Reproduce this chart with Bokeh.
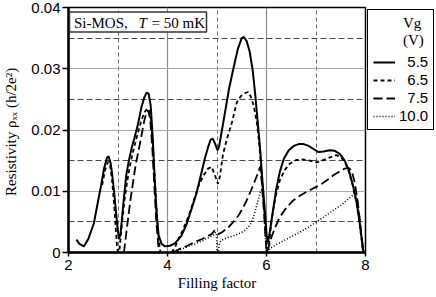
import numpy as np
from bokeh.plotting import figure
from bokeh.models import (Range1d, FixedTicker, Label, BoxAnnotation, CustomJSTickFormatter,
                          Legend, LegendItem)
from bokeh.embed import file_html
from bokeh.resources import INLINE

NAN = float("nan")
NBSP = "\u00a0"

# ---------------- data ----------------
x_ticks = [2, 4, 6, 8]
x_minor = [3, 5, 7]
y_ticks = [0, 0.01, 0.02, 0.03, 0.04]
y_minor = [0.005, 0.015, 0.025, 0.035]

legend_labels = ["5.5", "6.5", "7.5", "10.0"]

# Vg = 5.5 V (solid)
x_55 = [2.16, 2.22, 2.31, 2.40, 2.51, 2.60, 2.66, 2.72, 2.78, 2.81, 2.85, 2.88, 2.92, 2.95, 2.99,
        3.02, 3.05, 3.08, 3.12, 3.17, 3.22, 3.28, 3.33, 3.40, 3.47, 3.53, 3.58, 3.62, 3.66, 3.70,
        3.74, 3.78, 3.82, 3.88, 3.95, 4.05, 4.15, 4.28, 4.38, 4.48, 4.58, 4.68, 4.76, 4.82, 4.87,
        4.91, 4.96, 5.01, 5.04, 5.10, 5.16, 5.24, 5.33, 5.42, 5.50, 5.54, 5.60, 5.66, 5.72, 5.77,
        5.82, 5.87, 5.92, 5.97, 6.00, 6.03, 6.07, 6.13, 6.20, 6.27, 6.35, 6.45, 6.55, 6.65, 6.75,
        6.85, 6.95, 7.05, 7.15, 7.28, 7.38, 7.48, 7.58, 7.66, 7.74, 7.82, 7.88, 7.93, 7.96]
y_55 = [0.0021, 0.0014, 0.0010, 0.0022, 0.0047, 0.0085, 0.0110, 0.0138, 0.0155, 0.0157, 0.0146,
        0.0129, 0.0100, 0.0074, 0.0040, 0.0022, 0.0030, 0.0055, 0.0090, 0.0128, 0.0150, 0.0172,
        0.0186, 0.0208, 0.0236, 0.0253, 0.0261, 0.0259, 0.0240, 0.0190, 0.0120, 0.0065, 0.0028,
        0.0014, 0.0010, 0.0011, 0.0015, 0.0027, 0.0045, 0.0070, 0.0095, 0.0128, 0.0155, 0.0172,
        0.0184, 0.0186, 0.0178, 0.0167, 0.0172, 0.0200, 0.0228, 0.0266, 0.0300, 0.0332, 0.0350,
        0.0352, 0.0345, 0.0328, 0.0298, 0.0260, 0.0215, 0.0170, 0.0115, 0.0065, 0.0030, 0.0017,
        0.0035, 0.0068, 0.0105, 0.0132, 0.0153, 0.0167, 0.0174, 0.0177, 0.0177, 0.0174, 0.0169,
        0.0164, 0.0165, 0.0167, 0.0166, 0.0161, 0.0150, 0.0135, 0.0112, 0.0082, 0.0050, 0.0018,
        0.0]

# Vg = 6.5 V (short dash)
x_65 = [2.68, 2.74, 2.80, 2.84, 2.88, 2.92, 2.95, 2.98, 3.00, 3.03, 3.08, 3.13, 3.19, 3.25, 3.32,
        3.40, 3.47, 3.53, 3.59, 3.63, 3.67, 3.71, 3.75, 3.79, 3.83, 3.86, NAN,
        4.08, 4.15, 4.21, 4.30, 4.42, 4.52, 4.62, 4.72, 4.82, 4.89, 4.95, 5.02, 5.06, 5.12, 5.20,
        5.30, 5.40, 5.48, 5.56, 5.63, 5.68, 5.74, 5.80, 5.85, 5.90, 5.95, 5.99, 6.02, 6.05, 6.10,
        6.18, 6.27, 6.37, 6.47, 6.60, 6.74, 6.88, 7.01, 7.12, 7.21, 7.31, 7.41, 7.50, 7.58, 7.66,
        7.74, 7.82, 7.88, 7.93, 7.95]
y_65 = [0.0110, 0.0135, 0.0148, 0.0143, 0.0118, 0.0080, 0.0045, 0.0010, 0.0, 0.0005, 0.0047,
        0.0085, 0.0118, 0.0145, 0.0170, 0.0195, 0.0215, 0.0228, 0.0235, 0.0232, 0.0215, 0.0170,
        0.0110, 0.0055, 0.0015, 0.0, NAN,
        0.0, 0.0008, 0.0020, 0.0035, 0.0058, 0.0082, 0.0107, 0.0125, 0.0137, 0.0140, 0.0128,
        0.0112, 0.0125, 0.0160, 0.0185, 0.0212, 0.0245, 0.0255, 0.0260, 0.0262, 0.0255, 0.0240,
        0.0215, 0.0180, 0.0130, 0.0075, 0.0030, 0.0005, 0.0012, 0.0052, 0.0090, 0.0118, 0.0135,
        0.0145, 0.0151, 0.0152, 0.0150, 0.0147, 0.0150, 0.0153, 0.0156, 0.0159, 0.0156, 0.0148,
        0.0133, 0.0110, 0.0080, 0.0048, 0.0015, 0.0]

# Vg = 7.5 V (long dash)
x_75 = [3.12, 3.18, 3.25, 3.31, 3.36, 3.42, 3.47, 3.53, 3.58, 3.61, 3.65, 3.69, 3.73, 3.77, 3.81,
        3.83, NAN,
        4.11, 4.25, 4.40, 4.55, 4.70, 4.82, 4.89, 4.95, 4.99, 5.03, 5.10, 5.23, 5.33, 5.43, 5.52,
        5.60, 5.68, 5.77, 5.83, 5.87, 5.91, 5.95, 5.98, 6.00, 6.04, 6.10, 6.18, 6.27, 6.40, 6.54,
        6.68, 6.81, 6.95, 7.08, 7.22, 7.35, 7.47, 7.58, 7.66, 7.72, 7.78, 7.84, 7.89, 7.93, 7.96]
y_75 = [0.0, 0.0040, 0.0085, 0.0118, 0.0145, 0.0168, 0.0189, 0.0215, 0.0230, 0.0232, 0.0218,
        0.0175, 0.0115, 0.0055, 0.0015, 0.0, NAN,
        0.0, 0.0006, 0.0011, 0.0017, 0.0022, 0.0027, 0.0030, 0.0036, 0.0034, 0.0030, 0.0033,
        0.0041, 0.0050, 0.0060, 0.0072, 0.0085, 0.0100, 0.0118, 0.0130, 0.0140, 0.0110, 0.0065,
        0.0025, 0.0, 0.0008, 0.0025, 0.0042, 0.0058, 0.0073, 0.0085, 0.0093, 0.0099, 0.0105,
        0.0110, 0.0118, 0.0126, 0.0132, 0.0137, 0.0138, 0.0134, 0.0115, 0.0085, 0.0050, 0.0020,
        0.0]

# Vg = 10.0 V (dotted)
x_100 = [4.15, 4.30, 4.45, 4.55, 4.70, 4.82, 4.92, 4.97, 4.99, 5.00, 5.02, 5.05, 5.09, 5.20, 5.36,
         5.48, 5.56, 5.64, 5.70, 5.76, 5.83, 5.88, 5.91, 5.94, 5.97, 6.00, 6.08, 6.20, 6.34, 6.50,
         6.67, 6.84, 7.01, 7.18, 7.35, 7.50, 7.62, 7.72, 7.78, 7.83, 7.87, 7.91, 7.95]
y_100 = [0.0, 0.0006, 0.0011, 0.0014, 0.0019, 0.0024, 0.0028, 0.0033, 0.0030, 0.0, 0.0, 0.0015,
         0.0020, 0.0024, 0.0028, 0.0032, 0.0036, 0.0042, 0.0050, 0.0064, 0.0085, 0.0100, 0.0104,
         0.0075, 0.0035, 0.0, 0.0007, 0.0013, 0.0019, 0.0026, 0.0033, 0.0041, 0.0050, 0.0059,
         0.0069, 0.0077, 0.0085, 0.0092, 0.0096, 0.0088, 0.0065, 0.0035, 0.0]

series = [(x_55, y_55, "solid", 2.0), (x_65, y_65, "4 3", 1.8),
          (x_75, y_75, "9 4", 1.8), (x_100, y_100, "1 2", 1.6)]

# ---------------- geometry ----------------
FRAME_W, FRAME_H = 297, 245
B_LEFT, B_TOP, B_BOTTOM = 67, 7, 38
X0, X1, Y0, Y1 = 2, 8, 0, 0.04
pxu_x = FRAME_W / (X1 - X0)
pxu_y = FRAME_H / (Y1 - Y0)


def dx(offset):          # px right of frame left edge -> data x
    return X0 + offset / pxu_x


def dy_top(offset):      # px below frame top edge -> data y
    return Y1 - offset / pxu_y


p = figure(frame_width=FRAME_W, frame_height=FRAME_H, x_range=Range1d(X0, X1),
           y_range=Range1d(Y0, Y1), output_backend="svg", toolbar_location=None,
           min_border_left=B_LEFT, min_border_right=0,
           min_border_top=B_TOP, min_border_bottom=B_BOTTOM)
p.background_fill_color = "white"
p.border_fill_color = "white"
p.outline_line_color = "black"
p.outline_line_width = 1.5
p.outline_line_alpha = 1.0

p.xaxis.ticker = FixedTicker(ticks=x_ticks, minor_ticks=x_minor)
p.yaxis.ticker = FixedTicker(ticks=y_ticks, minor_ticks=y_minor)
p.yaxis.formatter = CustomJSTickFormatter(code="return tick === 0 ? '0' : tick.toFixed(2);")

for ax in (p.xaxis, p.yaxis):
    ax.axis_line_color = "black"
    ax.axis_line_width = 2.5
    ax.major_tick_line_color = "black"
    ax.major_tick_line_width = 1.5
    ax.major_tick_in = 0
    ax.minor_tick_line_color = None
    ax.major_label_text_font = "Liberation Sans"
    ax.major_label_text_font_size = "15px"
    ax.major_label_text_color = "black"
    ax.axis_label_text_font = "Liberation Serif"
    ax.axis_label_text_font_style = "normal"
    ax.axis_label_text_font_size = "15px"
    ax.axis_label_text_color = "black"
p.xaxis.major_tick_out = 4
p.yaxis.major_tick_out = 6
p.xaxis.major_label_standoff = 3
p.yaxis.major_label_standoff = 2
p.xaxis.axis_label = "Filling factor"
p.xaxis.axis_label_standoff = 2
p.yaxis.axis_label = "Resistivity  \u03c1\u2093\u2093 (h/2e\u00b2)"
p.yaxis.axis_label_standoff = 9

p.xgrid.grid_line_color = "#8c8c8c"
p.xgrid.grid_line_width = 1.2
p.xgrid.minor_grid_line_color = "#6a6a6a"
p.xgrid.minor_grid_line_dash = "4 3"
p.xgrid.minor_grid_line_width = 1
p.ygrid.grid_line_color = "#a8a8a8"
p.ygrid.grid_line_width = 1.2
p.ygrid.minor_grid_line_color = "#4a4a4a"
p.ygrid.minor_grid_line_dash = "6 3"
p.ygrid.minor_grid_line_width = 1

renderers = []
for xs, ys, dash, lw in series:
    r = p.line(np.array(xs, dtype=float), np.array(ys, dtype=float), line_color="black",
               line_width=lw, line_dash=dash)
    renderers.append(r)

# annotation box "Si-MOS, T = 50 mK"
p.add_layout(BoxAnnotation(left=dx(1), right=dx(138), top=dy_top(4.5), bottom=dy_top(24.5),
                           fill_color="white", fill_alpha=1.0, line_color="#333333",
                           line_width=1.5, line_alpha=1.0))
ty = dy_top(15)
for txt, off, style in [("Si-MOS,", 5.5, "normal"), ("T", 70, "italic"), ("= 50 mK", 83, "normal")]:
    p.add_layout(Label(x=dx(off), y=ty, text=txt, text_font="Liberation Serif",
                       text_font_size="15px", text_font_style=style, text_color="black",
                       text_align="left", text_baseline="middle"))

# legend (outside, right); labels padded so the numbers line up on the right
widest = max(len(s) for s in legend_labels)
padded = [NBSP * (2 * (widest - len(s))) + s for s in legend_labels]
legend = Legend(items=[LegendItem(label=lab, renderers=[r])
                       for lab, r in zip(padded, renderers)],
                location="top_left", orientation="vertical")
legend.title = NBSP * 8 + "Vg\n" + NBSP * 8 + "(V)"
legend.title_text_font = "Liberation Serif"
legend.title_text_font_size = "15px"
legend.title_text_font_style = "normal"
legend.title_text_color = "black"
legend.title_standoff = 4
legend.label_text_font = "Liberation Sans"
legend.label_text_font_size = "15px"
legend.label_text_color = "black"
legend.label_height = 16
legend.glyph_height = 16
legend.glyph_width = 22
legend.label_standoff = 4
legend.spacing = 1
legend.padding = 5
legend.margin = 2
legend.border_line_color = "black"
legend.border_line_width = 1.5
legend.border_line_alpha = 1.0
legend.background_fill_alpha = 1.0
p.add_layout(legend, "right")

open("out.html", "w").write(file_html(p, INLINE))
